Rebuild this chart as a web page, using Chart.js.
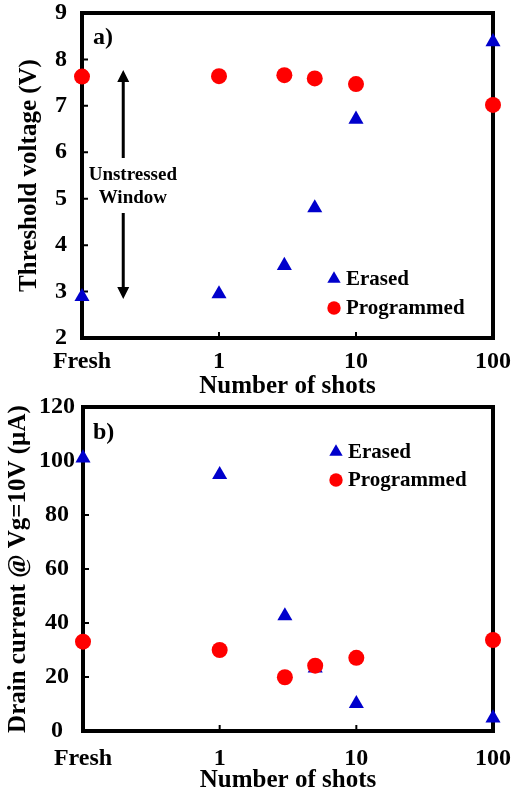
<!DOCTYPE html>
<html>
<head>
<meta charset="utf-8">
<script src="https://cdn.jsdelivr.net/npm/chart.js@4.4.1/dist/chart.umd.min.js"></script>
<style>
    body { margin: 0; background: #fff; }
    #wrap { position: relative; width: 512px; height: 798px; }
    .panel { position: absolute; left: 0; width: 512px; }
</style>
</head>
<body>
<div id="wrap">
    <div class="panel" style="top:0;height:400px"><canvas id="chartA" width="512" height="400"></canvas></div>
    <div class="panel" style="top:392px;height:406px"><canvas id="chartB" width="512" height="406"></canvas></div>
</div>
<script>
// x positions: "Fresh" is put one decade below 1 shot
const shotLabels = ['Fresh', '1', '10', '100'];
const shotTicks = [0.1, 1, 10, 100];
const shots = [0.1, 1, 3, 5, 10, 100];
const seriesNames = ['Erased', 'Programmed'];

// a) threshold voltage (V)
const vtErased = [2.89, 2.95, 3.56, 4.80, 6.71, 8.38];
const vtProgrammed = [7.63, 7.64, 7.66, 7.59, 7.47, 7.02];

// b) drain current @ Vg=10V (uA)
const idErased = [101.1, 94.9, 42.6, 23.3, 10.1, 4.8];
const idProgrammed = [33.1, 30.0, 19.9, 24.2, 27.1, 33.7];

// the "Unstressed Window" arrow in panel a (data coordinates)
const windowArrow = { x: 0.2, from: 2.84, to: 7.77, gapFrom: 4.69, gapTo: 5.875 };
const windowText = ['Unstressed', 'Window'];
const windowTextPos = { x: 0.235, y: [5.51, 5.01] };

const SERIF = '"Liberation Serif", "Times New Roman", serif';
const BLUE = '#0000CC';
const RED = '#FF0000';

function points(ys) {
    return shots.map((x, i) => ({ x: x, y: ys[i] }));
}

function drawMarker(ctx, style, x, y, r, color) {
    ctx.fillStyle = color;
    ctx.beginPath();
    if (style === 'triangle') {
        ctx.moveTo(x, y - r);
        ctx.lineTo(x + r * 0.866, y + r / 2);
        ctx.lineTo(x - r * 0.866, y + r / 2);
        ctx.closePath();
    } else {
        ctx.arc(x, y, r, 0, Math.PI * 2);
    }
    ctx.fill();
}

function drawWindow(ctx, xs, ys) {
    const px = xs.getPixelForValue(windowArrow.x);
    const top = ys.getPixelForValue(windowArrow.to);
    const bot = ys.getPixelForValue(windowArrow.from);
    const g1 = ys.getPixelForValue(windowArrow.gapTo);
    const g2 = ys.getPixelForValue(windowArrow.gapFrom);
    ctx.strokeStyle = '#000';
    ctx.fillStyle = '#000';
    ctx.lineWidth = 3;
    ctx.beginPath();
    ctx.moveTo(px, top + 10); ctx.lineTo(px, g1);
    ctx.moveTo(px, g2); ctx.lineTo(px, bot - 10);
    ctx.stroke();
    // arrow heads
    ctx.beginPath();
    ctx.moveTo(px, top); ctx.lineTo(px - 6, top + 12); ctx.lineTo(px + 6, top + 12);
    ctx.closePath();
    ctx.moveTo(px, bot); ctx.lineTo(px - 6, bot - 12); ctx.lineTo(px + 6, bot - 12);
    ctx.closePath();
    ctx.fill();

    ctx.font = 'bold 19px ' + SERIF;
    ctx.textAlign = 'center';
    ctx.textBaseline = 'middle';
    const tx = xs.getPixelForValue(windowTextPos.x);
    windowText.forEach((t, i) => ctx.fillText(t, tx, ys.getPixelForValue(windowTextPos.y[i])));
}

// frame, inward ticks, panel letter, legend
const panelPlugin = {
    id: 'panel',
    beforeDatasetsDraw(chart, args, o) {
        const { ctx, chartArea: a, scales: { x, y } } = chart;
        ctx.save();
        ctx.strokeStyle = '#000';
        ctx.lineWidth = 4;
        ctx.strokeRect(a.left, a.top, a.right - a.left, a.bottom - a.top);

        ctx.lineWidth = 2;
        ctx.beginPath();
        y.ticks.forEach(t => {
            const py = y.getPixelForValue(t.value);
            ctx.moveTo(a.left, py); ctx.lineTo(a.left + 6, py);
        });
        x.ticks.forEach(t => {
            const px = x.getPixelForValue(t.value);
            if (px > a.left + 2 && px < a.right - 2) {
                ctx.moveTo(px, a.bottom); ctx.lineTo(px, a.bottom - 6);
            }
        });
        ctx.stroke();

        ctx.fillStyle = '#000';
        ctx.font = 'bold 24px ' + SERIF;
        ctx.textAlign = 'left';
        ctx.textBaseline = 'middle';
        ctx.fillText(o.letter, a.left + o.letterDx, a.top + o.letterDy);

        if (o.arrow) drawWindow(ctx, x, y);
        ctx.restore();
    },
    afterDatasetsDraw(chart, args, o) {
        const { ctx, chartArea: a } = chart;
        ctx.save();
        ctx.font = 'bold 21px ' + SERIF;
        ctx.textAlign = 'left';
        ctx.textBaseline = 'middle';
        chart.data.datasets.forEach((ds, i) => {
            const lx = a.left + o.legendDx;
            const ly = a.top + o.legendDy + i * o.legendGap;
            drawMarker(ctx, ds.pointStyle, lx, ly, ds.pointStyle === 'triangle' ? 7.7 : 6.7, ds.backgroundColor);
            ctx.fillStyle = '#000';
            ctx.fillText(ds.label, lx + 12, ly + 1);
        });
        ctx.restore();
    }
};

function buildChart(canvasId, opt) {
    const ctx = document.getElementById(canvasId);
    const chart = new Chart(ctx, {
        type: 'scatter',
        data: {
            datasets: [{
                label: seriesNames[0],
                data: points(opt.erased),
                pointStyle: 'triangle',
                pointRadius: 8.7,
                borderWidth: 0,
                backgroundColor: BLUE,
                borderColor: BLUE,
                order: 1,
                clip: false
            }, {
                label: seriesNames[1],
                data: points(opt.programmed),
                pointStyle: 'circle',
                pointRadius: 8,
                borderWidth: 0,
                backgroundColor: RED,
                borderColor: RED,
                order: 0,
                clip: false
            }]
        },
        options: {
            responsive: false,
            animation: false,
            events: [],
            layout: { padding: { top: opt.area.top, right: 512 - opt.area.right, bottom: 0, left: 0 } },
            plugins: {
                legend: { display: false },
                tooltip: { enabled: false },
                panel: opt.panel
            },
            scales: {
                x: {
                    type: 'logarithmic',
                    min: 0.1,
                    max: 100,
                    afterBuildTicks: s => { s.ticks = shotTicks.map(v => ({ value: v })); },
                    afterFit: s => {
                        s.height = opt.canvasHeight - opt.area.bottom;
                        s.paddingLeft = 0;
                        s.paddingRight = 0;
                    },
                    grid: { display: false },
                    border: { display: false },
                    ticks: {
                        autoSkip: false,
                        maxRotation: 0,
                        padding: opt.xTickPad,
                        color: '#000',
                        font: { family: SERIF, size: 24, weight: 'bold', lineHeight: 1 },
                        callback: v => {
                            const i = shotTicks.indexOf(v);
                            return i >= 0 ? shotLabels[i] : '';
                        }
                    },
                    title: {
                        display: true,
                        text: 'Number of shots',
                        color: '#000',
                        font: { family: SERIF, size: 25, weight: 'bold', lineHeight: 1.1 },
                        padding: { top: 0, bottom: opt.xTitlePad }
                    }
                },
                y: {
                    min: opt.yMin,
                    max: opt.yMax,
                    afterFit: s => {
                        s.width = opt.area.left;
                        s.paddingTop = 0;
                        s.paddingBottom = 0;
                    },
                    grid: { display: false, drawTicks: false },
                    border: { display: false },
                    ticks: {
                        stepSize: opt.yStep,
                        crossAlign: 'center',
                        padding: opt.yTickPad,
                        color: '#000',
                        font: { family: SERIF, size: 24, weight: 'bold', lineHeight: 1 }
                    },
                    title: {
                        display: true,
                        text: opt.yTitle,
                        color: '#000',
                        font: { family: SERIF, size: 25, weight: 'bold', lineHeight: 1.1 },
                        padding: { top: opt.yTitlePad, bottom: 0 }
                    }
                }
            }
        },
        plugins: [panelPlugin]
    });

    // nudge the layout padding until the plot box sits where the figure has it
    const pad = chart.config.options.layout.padding;
    for (let k = 0; k < 5; k++) {
        const a = chart.chartArea;
        const dt = opt.area.top - a.top;
        const dr = a.right - opt.area.right;
        if (Math.abs(dt) < 0.5 && Math.abs(dr) < 0.5) break;
        pad.top += dt;
        pad.right += dr;
        chart.update();
    }
    return chart;
}

buildChart('chartA', {
    erased: vtErased,
    programmed: vtProgrammed,
    yMin: 2, yMax: 9, yStep: 1,
    yTitle: 'Threshold voltage (V)',
    canvasHeight: 400,
    area: { left: 82, right: 493, top: 13, bottom: 338 },
    xTickPad: 4, xTitlePad: 0, yTickPad: 15, yTitlePad: 16,
    panel: { letter: 'a)', letterDx: 11, letterDy: 24.5, arrow: true,
             legendDx: 252, legendDy: 266, legendGap: 29 }
});

buildChart('chartB', {
    erased: idErased,
    programmed: idProgrammed,
    yMin: 0, yMax: 120, yStep: 20,
    yTitle: 'Drain current @ Vg=10V (\u00b5A)',
    canvasHeight: 406,
    area: { left: 83, right: 493, top: 15, bottom: 339 },
    xTickPad: 8, xTitlePad: 4, yTickPad: 8, yTitlePad: 4.5,
    panel: { letter: 'b)', letterDx: 10, letterDy: 26, arrow: false,
             legendDx: 253, legendDy: 45, legendGap: 28 }
});
</script>
</body>
</html>
